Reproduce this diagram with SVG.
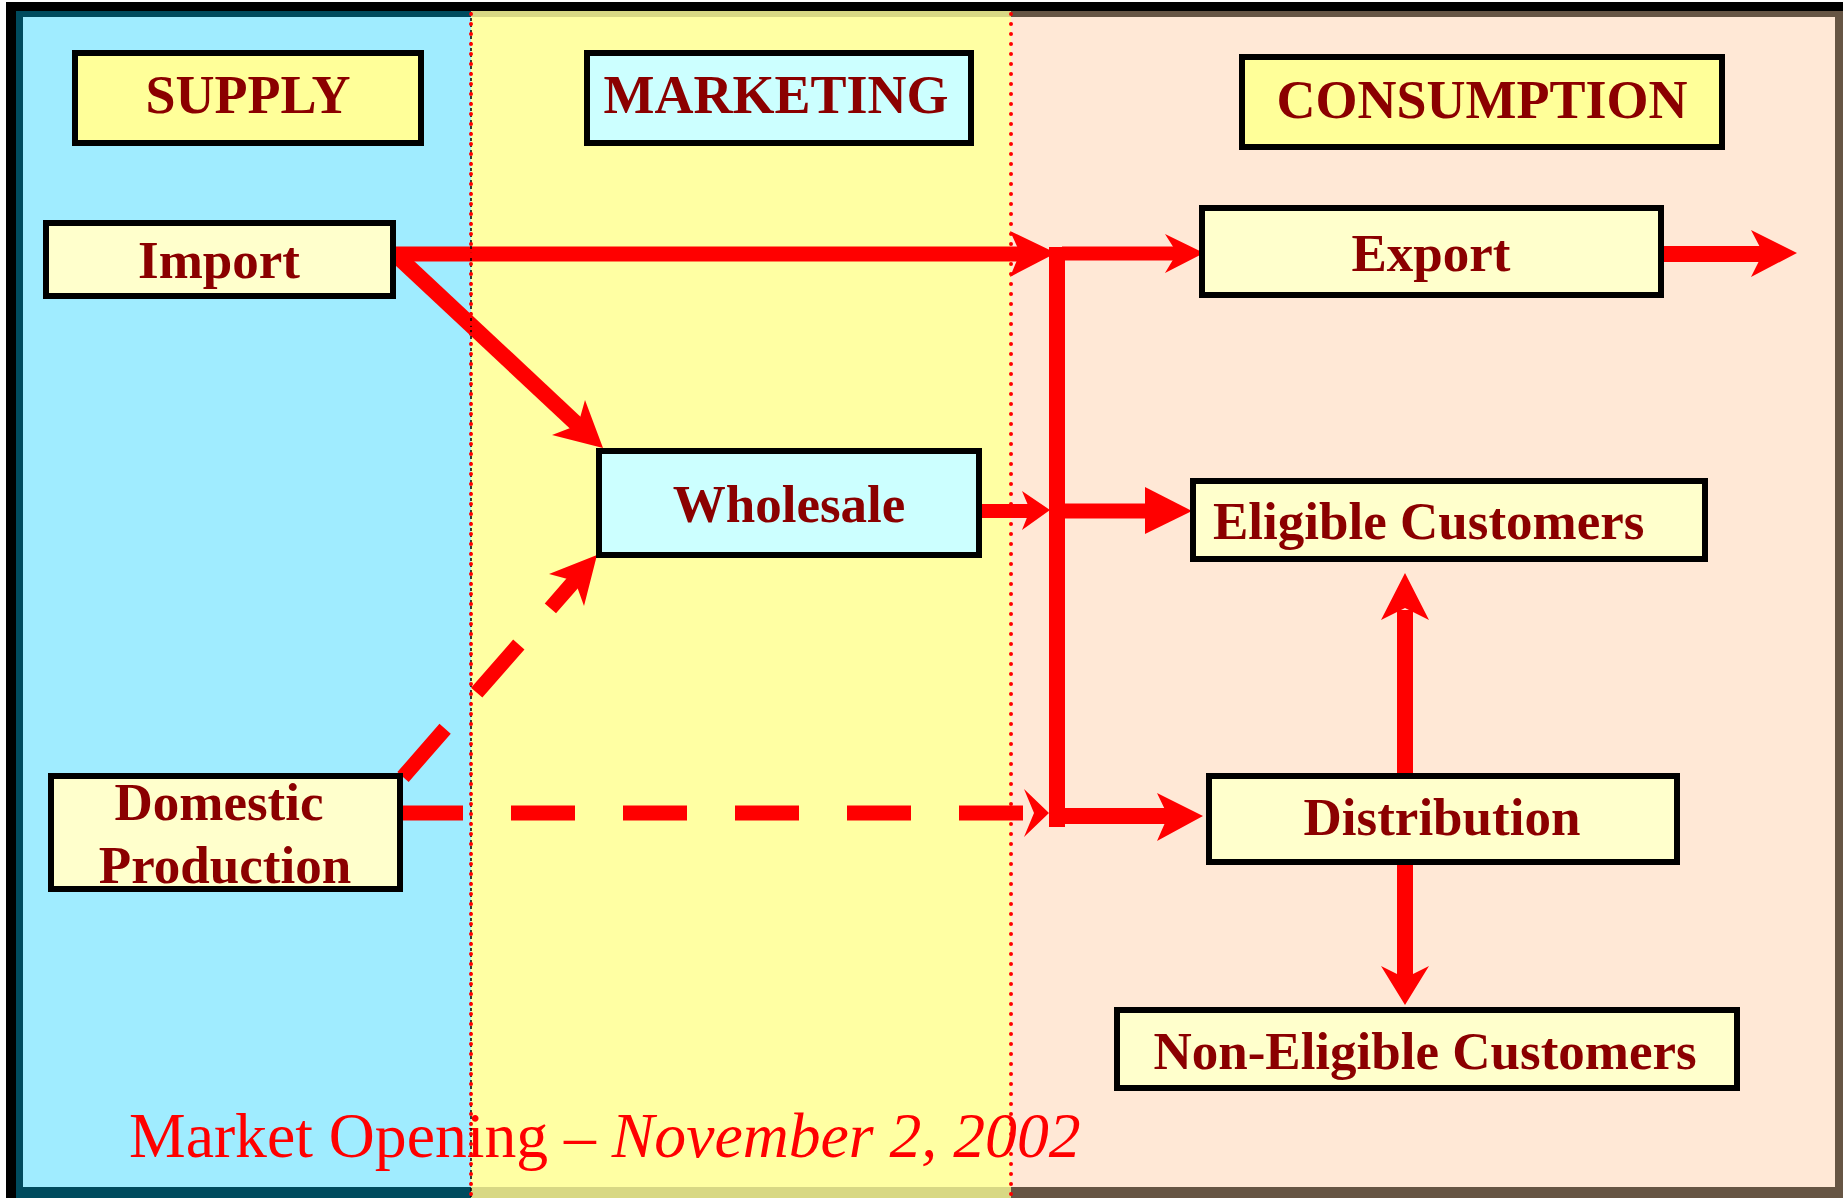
<svg xmlns="http://www.w3.org/2000/svg" width="1843" height="1198" viewBox="0 0 1843 1198">
<style>
.hdr{font-family:"Liberation Serif","Times New Roman",serif;font-weight:bold;font-size:54px;fill:#8b0000;text-anchor:middle}
.lbl{font-family:"Liberation Serif","Times New Roman",serif;font-weight:bold;font-size:53px;fill:#8b0000;text-anchor:middle}
.lbl.start{text-anchor:start}
.box{stroke:#000;stroke-width:6}
.y1{fill:#ffff99}
.y2{fill:#ffffcc}
.c1{fill:#ccffff}
.ln{stroke:#ff0000;fill:none;stroke-linecap:butt}
.dash{stroke-dasharray:64 48}
.ah{fill:#ff0000}
.dots{stroke:#ff0000;stroke-width:4;stroke-linecap:round;stroke-dasharray:0 10;fill:none}
.foot{font-family:"Liberation Serif","Times New Roman",serif;font-size:63.7px;fill:#ff0000}
</style>
<rect x="0" y="0" width="1843" height="1198" fill="#ffffff"/>
<g id="background">
<rect x="6" y="2" width="1837" height="1196" fill="#000000"/>
<rect x="16" y="11" width="455" height="1187" fill="#004b5e"/>
<rect x="23" y="17" width="448" height="1170" fill="#a0ecff"/>
<rect x="471" y="11" width="540" height="1187" fill="#d8d884"/>
<rect x="471" y="17" width="540" height="1170" fill="#ffffa3"/>
<rect x="1011" y="11" width="832" height="1187" fill="#665544"/>
<rect x="1011" y="17" width="824" height="1170" fill="#ffe8d6"/>
</g>
<text class="foot" x="129" y="1157">Market Opening – <tspan font-style="italic">November 2, 2002</tspan></text>
<g id="connectors">
<line class="ln" x1="396" y1="254" x2="1030" y2="254" stroke-width="15"/>
<polygon class="ah" points="1056,253 1010,231 1020,253 1010,277"/>
<line class="ln" x1="397" y1="256" x2="582" y2="429" stroke-width="16"/>
<polygon class="ah" points="603,448 552,435 578,425 585,400"/>
<line class="ln" x1="982" y1="511" x2="1035" y2="511" stroke-width="14"/>
<polygon class="ah" points="1050,510 1022,491 1030,510 1022,530"/>
<rect x="1049" y="247" width="16" height="580" fill="#ff0000"/>
<line class="ln" x1="1062" y1="253.5" x2="1180" y2="253.5" stroke-width="14"/>
<polygon class="ah" points="1204,253 1165,234 1177,253 1165,273"/>
<line class="ln" x1="1057" y1="511" x2="1150" y2="511" stroke-width="15"/>
<polygon class="ah" points="1192,511 1145,487 1145,534"/>
<line class="ln" x1="1664" y1="254" x2="1768" y2="254" stroke-width="16"/>
<polygon class="ah" points="1797,253 1751,230 1763,253 1751,277"/>
<line class="ln dash" x1="399" y1="813" x2="1023" y2="813" stroke-width="15"/>
<polygon class="ah" points="1049,813 1024,789 1034,813 1024,837"/>
<line class="ln" x1="1057" y1="816" x2="1175" y2="816" stroke-width="16"/>
<polygon class="ah" points="1203,816 1157,793 1168,816 1157,841"/>
<line class="ln dash" x1="403" y1="777" x2="576" y2="579" stroke-width="15"/>
<polygon class="ah" points="597,555 584,606 575,581 549,574"/>
<line class="ln" x1="1405" y1="777" x2="1405" y2="610" stroke-width="16"/>
<polygon class="ah" points="1405,573 1429,620 1405,608 1381,620"/>
<line class="ln" x1="1405" y1="865" x2="1405" y2="980" stroke-width="16"/>
<polygon class="ah" points="1405,1005 1381,966 1405,978 1429,966"/>
</g>
<g id="supply">
<rect class="box y1" x="75" y="53" width="346" height="90"/>
<text class="hdr" x="248" y="113">SUPPLY</text>
</g>
<g id="marketing">
<rect class="box c1" x="587" y="53" width="384" height="90"/>
<text class="hdr" x="776" y="113">MARKETING</text>
</g>
<g id="consumption">
<rect class="box y1" x="1242" y="57" width="480" height="90"/>
<text class="hdr" x="1482" y="118">CONSUMPTION</text>
</g>
<g id="import">
<rect class="box y2" x="46" y="223" width="347" height="73"/>
<text class="lbl" x="219" y="278">Import</text>
</g>
<g id="wholesale">
<rect class="box c1" x="599" y="451" width="380" height="104"/>
<text class="lbl" x="789" y="522">Wholesale</text>
</g>
<g id="domestic-production">
<rect class="box y2" x="51" y="776" width="349" height="113"/>
<text class="lbl" x="219" y="820">Domestic</text>
<text class="lbl" x="225" y="883">Production</text>
</g>
<g id="export">
<rect class="box y2" x="1202" y="208" width="459" height="87"/>
<text class="lbl" x="1431" y="271">Export</text>
</g>
<g id="eligible-customers">
<rect class="box y2" x="1193" y="481" width="512" height="78"/>
<text class="lbl start" x="1213" y="539">Eligible Customers</text>
</g>
<g id="distribution">
<rect class="box y2" x="1209" y="776" width="468" height="86"/>
<text class="lbl" x="1442" y="835">Distribution</text>
</g>
<g id="non-eligible-customers">
<rect class="box y2" x="1117" y="1010" width="620" height="78"/>
<text class="lbl" x="1425" y="1069">Non-Eligible Customers</text>
</g>
<g id="dividers">
<line x1="471" y1="12" x2="471" y2="1198" stroke="#000" stroke-width="1.5" stroke-dasharray="3 3"/>
<line class="dots" x1="471" y1="14" x2="471" y2="1198"/>
<line class="dots" x1="1011" y1="14" x2="1011" y2="1198"/>
</g>
</svg>
